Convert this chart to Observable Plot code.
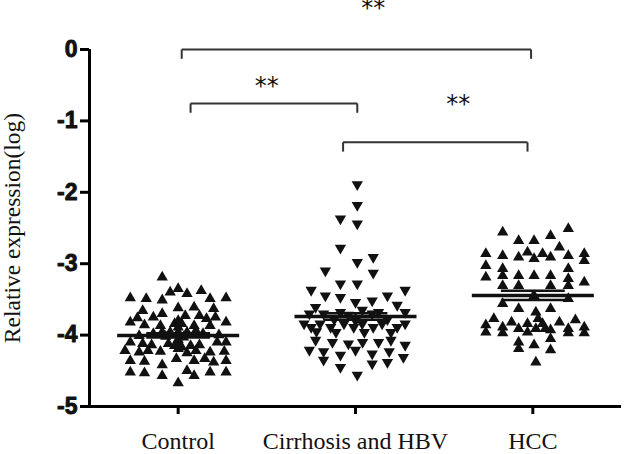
<!DOCTYPE html>
<html><head><meta charset="utf-8">
<script src="https://cdn.jsdelivr.net/npm/d3@7"></script>
<script src="https://cdn.jsdelivr.net/npm/@observablehq/plot@0.6"></script>
<style>body{margin:0;background:#fff;}</style>
</head><body><div id="chart"></div>
<script>
const categories = ["Control", "Cirrhosis and HBV", "HCC"];
const yTicks = [0, -1, -2, -3, -4, -5];
const yLabel = "Relative expression(log)";

// [horizontal jitter offset (category units), log expression]
const controlPoints = [
  [-0.09,-3.19],[-0.045,-3.40],[0.0,-3.35],[0.05,-3.42],[0.13,-3.38],[-0.27,-3.48],[-0.18,-3.49],[-0.09,-3.51],
  [0.18,-3.49],[0.27,-3.48],[-0.20,-3.66],[0.0,-3.62],[0.09,-3.61],[0.20,-3.63],[-0.23,-3.76],[-0.14,-3.75],
  [-0.09,-3.70],[0.04,-3.73],[0.12,-3.73],[0.16,-3.77],[0.21,-3.75],[-0.27,-3.82],[-0.19,-3.86],[-0.10,-3.87],
  [0.0,-3.89],[0.09,-3.87],[0.18,-3.87],[0.27,-3.82],[-0.22,-4.01],[-0.14,-3.98],[-0.09,-3.96],[-0.045,-3.96],
  [0.0,-3.96],[0.05,-3.96],[0.10,-3.94],[0.14,-3.98],[0.23,-4.0],[-0.27,-4.10],[-0.20,-4.12],[-0.15,-4.14],
  [-0.055,-4.12],[0.0,-4.10],[0.07,-4.15],[0.12,-4.14],[0.22,-4.10],[0.27,-4.10],[-0.30,-4.22],[-0.22,-4.24],
  [-0.17,-4.22],[-0.10,-4.23],[0.0,-4.19],[0.05,-4.25],[0.10,-4.22],[0.18,-4.24],[0.26,-4.23],[-0.27,-4.36],
  [-0.19,-4.37],[-0.09,-4.42],[-0.01,-4.33],[0.09,-4.36],[0.15,-4.33],[0.20,-4.38],[0.27,-4.36],[-0.27,-4.52],
  [-0.19,-4.53],[-0.09,-4.57],[0.05,-4.50],[0.09,-4.57],[0.18,-4.52],[0.27,-4.52],[0.0,-4.67],
  [0.0,-3.80],[-0.02,-3.84],[0.02,-3.84],[0.0,-4.06],[-0.02,-4.15],[0.02,-4.17],[-0.07,-4.02],[0.03,-4.03]
];
const cirrhosisPoints = [
  [0.01,-1.89],[0.01,-2.18],[-0.085,-2.37],[0.01,-2.44],[-0.085,-2.78],[0.01,-2.98],[0.10,-2.91],[-0.17,-3.10],
  [0.10,-3.13],[-0.085,-3.28],[0.01,-3.28],[-0.25,-3.37],[-0.17,-3.45],[-0.085,-3.47],[0.094,-3.52],[0.18,-3.45],
  [0.28,-3.37],[-0.225,-3.61],[0.0,-3.54],[0.235,-3.58],[-0.26,-3.70],[-0.18,-3.70],[-0.085,-3.68],[0.038,-3.65],
  [0.094,-3.70],[0.13,-3.68],[0.28,-3.68],[-0.04,-3.72],[-0.29,-3.84],[-0.25,-3.89],[-0.20,-3.84],[-0.14,-3.89],
  [-0.065,-3.84],[-0.01,-3.89],[0.038,-3.84],[0.10,-3.89],[0.15,-3.84],[0.235,-3.89],[0.28,-3.84],[-0.22,-3.95],
  [-0.11,-3.96],[0.05,-3.96],[0.20,-3.96],[0.0,-3.80],[-0.12,-3.78],[0.18,-3.78],[-0.225,-4.07],[-0.13,-4.10],
  [-0.04,-4.12],[0.04,-4.10],[0.13,-4.10],[0.20,-4.07],[0.28,-4.14],[-0.26,-4.21],[-0.18,-4.23],[-0.085,-4.28],
  [0.0,-4.21],[0.094,-4.26],[0.19,-4.23],[0.27,-4.31],[-0.18,-4.35],[-0.085,-4.45],[0.094,-4.40],[0.18,-4.38],
  [0.01,-4.56]
];
const hccPoints = [
  [-0.17,-2.56],[0.20,-2.51],[0.10,-2.61],[-0.08,-2.68],[0.007,-2.68],[0.15,-2.77],[-0.265,-2.86],[-0.17,-2.89],
  [-0.08,-2.91],[-0.03,-2.84],[0.007,-2.93],[0.055,-2.86],[0.10,-2.91],[0.20,-2.89],[0.29,-2.86],[0.29,-2.96],
  [-0.265,-3.03],[-0.17,-3.07],[0.20,-3.07],[-0.265,-3.19],[-0.17,-3.17],[-0.08,-3.17],[0.007,-3.17],[0.10,-3.17],
  [0.20,-3.21],[-0.17,-3.31],[-0.08,-3.31],[0.10,-3.31],[0.20,-3.31],[0.29,-3.26],[0.007,-3.45],[0.20,-3.49],
  [-0.17,-3.56],[-0.08,-3.63],[0.10,-3.63],[-0.22,-3.77],[-0.12,-3.82],[0.017,-3.68],[0.03,-3.77],[0.15,-3.82],
  [0.24,-3.79],[-0.265,-3.86],[-0.265,-3.96],[-0.17,-3.89],[-0.17,-3.97],[-0.08,-3.91],[-0.03,-3.84],[-0.03,-3.96],
  [0.017,-3.91],[0.07,-3.91],[0.055,-3.84],[0.10,-3.93],[0.10,-4.05],[0.20,-3.91],[0.20,-3.97],[0.29,-3.89],
  [0.29,-3.97],[-0.08,-4.10],[-0.08,-4.19],[0.007,-4.14],[0.10,-4.21],[0.017,-4.38]
];
const groupPoints = [controlPoints, cirrhosisPoints, hccPoints];
const groupRotate = [0, 180, 0];

const means = [-4.005, -3.74, -3.445];
const sems = [0.03, 0.045, 0.065];

// significance brackets
const compFrom = [0.02, 0.07, 0.93];
const compTo = [1.99, 1.01, 1.97];
const compLevel = [0, -0.756, -1.30];
const compLabel = ["**", "**", "**"];
const starX = [1.10, 0.50, 1.58];
const starY = [0.58, -0.52, -0.77];

const points = groupPoints.flatMap((g, i) => g.map(([o, v]) => ({gi: i, x: i + o, value: v, rot: groupRotate[i]})));
const stats = categories.map((c, i) => ({i, mean: means[i], sem: sems[i]}));
const comps = compFrom.map((f, k) => ({from: f, to: compTo[k], level: compLevel[k], label: compLabel[k], sx: starX[k], sy: starY[k]}));
const catIdx = categories.map((c, i) => i);

const hook = 0.13, meanHalf = 0.344, semHalf = 0.18;

const chart = Plot.plot({
  width: 625, height: 454,
  marginLeft: 89, marginRight: 4, marginTop: 49, marginBottom: 48,
  x: {type: "linear", domain: [-0.5, 2.5], axis: null},
  y: {domain: [-5, 0], axis: null},
  style: {background: "#fff", color: "#000"},
  marks: [
    Plot.dot(points, {x: "x", y: "value", symbol: "triangle", r: 4.2, fill: "#111", stroke: "none", rotate: "rot"}),
    Plot.link(stats, {x1: d => d.i - meanHalf, x2: d => d.i + meanHalf, y1: "mean", y2: "mean", stroke: "#111", strokeWidth: 3.5}),
    Plot.link(stats, {x1: d => d.i - semHalf, x2: d => d.i + semHalf, y1: d => d.mean + d.sem, y2: d => d.mean + d.sem, stroke: "#111", strokeWidth: 2.5}),
    Plot.link(stats, {x1: d => d.i - semHalf, x2: d => d.i + semHalf, y1: d => d.mean - d.sem, y2: d => d.mean - d.sem, stroke: "#111", strokeWidth: 2.5}),
    Plot.link(stats, {x1: "i", x2: "i", y1: d => d.mean - d.sem, y2: d => d.mean + d.sem, stroke: "#111", strokeWidth: 2.5}),
    // brackets
    Plot.link(comps, {x1: "from", x2: "to", y1: "level", y2: "level", stroke: "#333", strokeWidth: 2}),
    Plot.link(comps, {x1: "from", x2: "from", y1: "level", y2: d => d.level - hook, stroke: "#333", strokeWidth: 2}),
    Plot.link(comps, {x1: "to", x2: "to", y1: "level", y2: d => d.level - hook, stroke: "#333", strokeWidth: 2}),
    Plot.text(comps, {x: "sx", y: "sy", text: "label", fontSize: 24, fontFamily: "DejaVu Sans", fill: "#111"}),
    // axes
    Plot.ruleX([-0.5], {y1: -5, y2: 0, stroke: "#000", strokeWidth: 3}),
    Plot.ruleY([-5], {x1: -0.5, x2: 2.5, stroke: "#000", strokeWidth: 3}),
    Plot.axisY(yTicks, {tickSize: 9, strokeWidth: 3, tickFormat: () => "", label: null, stroke: "#000"}),
    Plot.text(yTicks, {y: d => d, frameAnchor: "left", dx: -12, textAnchor: "end", text: d => String(d), fontSize: 23, fontWeight: 700, fontFamily: "Liberation Sans", fill: "#111", stroke: "#111", strokeWidth: 0.9}),
    Plot.axisX(catIdx, {tickSize: 8, strokeWidth: 3, tickFormat: () => "", label: null, stroke: "#000"}),
    Plot.text(catIdx, {x: d => d, frameAnchor: "bottom", dy: 25, lineAnchor: "top", text: i => categories[i], fontSize: 24, fontFamily: "Liberation Serif", fill: "#111"}),
    Plot.text([yLabel], {frameAnchor: "left", rotate: -90, dx: -77, textAnchor: "middle", fontSize: 23.5, fontFamily: "Liberation Serif", fill: "#111"})
  ]
});
document.getElementById("chart").appendChild(chart);
</script>
</body></html>
